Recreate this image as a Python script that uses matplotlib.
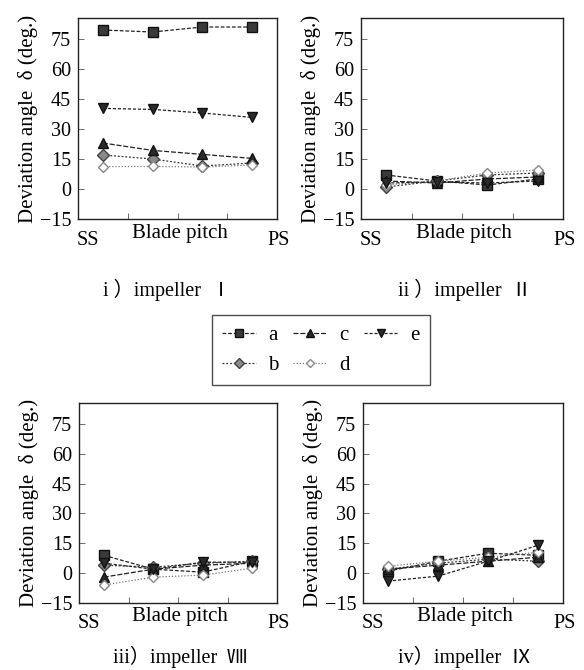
import matplotlib
matplotlib.use("Agg")
import matplotlib.pyplot as plt
from matplotlib.lines import Line2D

plt.rcParams['font.family'] = ['Liberation Serif', 'Noto Sans CJK JP', 'DejaVu Serif']

# blade pitch positions (fraction of pitch, SS -> PS)
pitch = [0.125, 0.375, 0.625, 0.875]
series = ['a', 'b', 'c', 'd', 'e']

# deviation angle (deg.) per impeller, per series
imp1 = {'a': [79.5, 78.5, 81, 81],
        'b': [17, 15, 11.5, 13],
        'c': [23, 19.3, 17.3, 15.3],
        'd': [11.2, 11.3, 11, 12],
        'e': [40.3, 39.8, 38, 35.8]}
imp2 = {'a': [7, 4, 2, 5],
        'b': [1, 4, 7, 8],
        'c': [4, 3, 5, 6],
        'd': [2, 4, 8, 9.5],
        'e': [3, 3.5, 3, 4]}
imp8 = {'a': [9, 2, 0.5, 6],
        'b': [4, 3, 5, 6],
        'c': [-2, 2, 4, 5],
        'd': [-6, -2, -1, 2.5],
        'e': [5, 2, 5.5, 5.5]}
imp9 = {'a': [1, 6, 10, 9],
        'b': [2, 5, 7, 6],
        'c': [2, 4, 6, 8],
        'd': [3.5, 6, 8, 10.5],
        'e': [-4, -1.5, 6, 14]}

panels = [imp1, imp2, imp8, imp9]
captions = ['i ）impeller  Ⅰ', 'ii ）impeller  Ⅱ', 'iii）impeller  Ⅷ', 'iv）impeller  Ⅸ']
yticks = [-15, 0, 15, 30, 45, 60, 75]

# marker / line style for each series
style = {
    'a': dict(marker='s', ms=7, mfc='#3a3a3a', mec='#111111', ls=(0, (3, 1.5)), color='#222222'),
    'b': dict(marker='D', ms=6, mfc='#8a8a8a', mec='#444444', ls=(0, (1.5, 1.5)), color='#333333'),
    'c': dict(marker='^', ms=7, mfc='#2a2a2a', mec='#111111', ls=(0, (4, 1.5)), color='#222222'),
    'd': dict(marker='D', ms=5, mfc='white', mec='#888888', ls=(0, (1, 1.5)), color='#777777'),
    'e': dict(marker='v', ms=7, mfc='#2a2a2a', mec='#111111', ls=(0, (2.5, 1.5)), color='#222222'),
}

W, H = 584, 670
fig = plt.figure(figsize=(W / 100, H / 100), dpi=100)

# axes boxes in pixels: left, top, right, bottom
boxes = [(78, 18, 277, 219), (361, 18, 563, 219),
         (79, 403, 277, 603), (363, 403, 563, 603)]
cap_pos = [(167, 290), (465, 290), (180, 657), (465, 657)]

for data, box, cap, cpos in zip(panels, boxes, captions, cap_pos):
    l, t, r, b = box
    ax = fig.add_axes([l / W, 1 - b / H, (r - l) / W, (b - t) / H])
    for s in series:
        ax.plot(pitch, data[s], lw=0.9, **style[s])
    ax.set_xlim(0, 1)
    ax.set_ylim(-15, 85.5)
    ax.set_yticks(yticks)
    ax.set_yticklabels([str(v).replace('-', '−') for v in yticks], fontsize=14.5)
    ax.set_xticks([0.25, 0.5, 0.75])
    ax.set_xticklabels([])
    ax.tick_params(direction='in', length=4, width=0.6, color='#555555', pad=5)
    for sp in ax.spines.values():
        sp.set_linewidth(1.0)
        sp.set_color('#222222')
    ax.set_ylabel('Deviation angle  δ (deg.)', fontsize=15, labelpad=1)
    ax.text(0.05, -0.105, 'SS', transform=ax.transAxes, ha='center', va='center', fontsize=14.5)
    ax.text(1.01, -0.105, 'PS', transform=ax.transAxes, ha='center', va='center', fontsize=14.5)
    ax.text(0.51, -0.07, 'Blade pitch', transform=ax.transAxes, ha='center', va='center', fontsize=15)
    fig.text(cpos[0] / W, 1 - cpos[1] / H, cap, ha='center', va='center', fontsize=14.5)

handles = [Line2D([0], [0], lw=0.9, **style[s]) for s in series]
leg = fig.legend(handles, series, loc='upper left', bbox_to_anchor=(212 / W, 1 - 315 / H),
                 ncol=3, fontsize=15, frameon=True, fancybox=False, edgecolor='#222222',
                 handlelength=1.6, handletextpad=0.6, columnspacing=0.7, borderpad=0.5,
                 labelspacing=0.5, borderaxespad=0, markerscale=0.85)
leg.get_frame().set_linewidth(1.0)

fig.savefig('out.png', dpi=100)
